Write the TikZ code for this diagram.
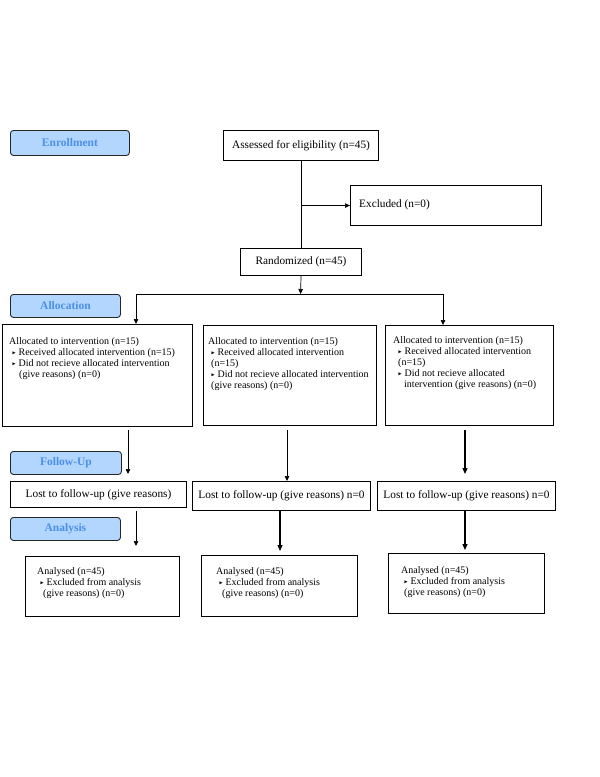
\documentclass[tikz,border=0pt]{standalone}
\usepackage{fontspec}
\setmainfont{Liberation Serif}
\usepackage{amssymb}
\usetikzlibrary{arrows.meta}
\definecolor{lblfill}{HTML}{B3D6FF}
\definecolor{lbltext}{HTML}{4A90E8}
\newcommand\mytri{\raisebox{0.2ex}{\scalebox{0.5}{$\blacktriangleright$}}\hspace{0.25em}}
\begin{document}
\begin{tikzpicture}[x=1pt,y=-1pt,
  box/.style={draw, line width=1.1pt, inner sep=0pt, anchor=north west},
  lbl/.style={draw=black!85, line width=0.9pt, rounded corners=3pt, fill=lblfill, text=lbltext,
     font=\bfseries\fontsize{11.5}{13}\selectfont, anchor=north west, inner sep=0pt},
  txt/.style={anchor=north west, align=left, inner sep=0pt, font=\fontsize{10}{11.2}\selectfont},
  ctxt/.style={font=\fontsize{11.3}{13}\selectfont},
  arr/.style={-{Triangle[length=5pt,width=4.5pt]}, line width=0.7pt},
  arrb/.style={-{Triangle[length=6pt,width=5pt]}, line width=1.2pt},
  ln/.style={line width=1.1pt}]
\useasboundingbox (0,0) rectangle (600,777);

% phase labels
\node[lbl, minimum width=119pt, minimum height=25pt] (enr) at (10,130) {Enrollment};
\node[lbl, minimum width=110pt, minimum height=23pt] (alloc) at (10,294) {Allocation};
\node[lbl, minimum width=111pt, minimum height=23pt] (fol) at (10,451) {Follow-Up};
\node[lbl, minimum width=110pt, minimum height=23pt] (ana) at (10,517) {Analysis};

% top boxes
\node[box, minimum width=155pt, minimum height=30pt, ctxt] (assess) at (223,130) {Assessed for eligibility (n=45)};
\node[box, minimum width=191pt, minimum height=40pt] (excl) at (350,185) {};
\node[txt, ctxt, anchor=west] (exclt) at (359,205) {Excluded (n=0)};
\node[box, minimum width=121pt, minimum height=27pt, ctxt] (rand) at (240,248) {Randomized (n=45)};

\draw[ln] (assess.south) -- (rand.north);
\draw[arr] (assess.south |- excl.west) -- (excl.west);

% allocation boxes
\node[box, minimum width=190pt, minimum height=102pt] (a1) at (2,324) {};
\node[box, minimum width=173pt, minimum height=100pt] (a2) at (203,325) {};
\node[box, minimum width=168pt, minimum height=100pt] (a3) at (385,325) {};

\node[txt] (a1t) at (9,337) {Allocated to intervention (n=15)\\
\hspace*{3pt}\mytri Received allocated intervention (n=15)\\
\hspace*{3pt}\mytri Did not recieve allocated intervention\\
\hspace*{10pt}(give reasons) (n=0)};
\node[txt] (a2t) at (208,337) {Allocated to intervention (n=15)\\
\hspace*{3pt}\mytri Received allocated intervention\\
\hspace*{3pt}(n=15)\\
\hspace*{3pt}\mytri Did not recieve allocated intervention\\
\hspace*{3pt}(give reasons) (n=0)};
\node[txt] (a3t) at (393,336) {Allocated to intervention (n=15)\\
\hspace*{5pt}\mytri Received allocated intervention\\
\hspace*{5pt}(n=15)\\
\hspace*{5pt}\mytri Did not recieve allocated\\
\hspace*{11pt}intervention (give reasons) (n=0)};

\coordinate (j) at (300.5,294);
\coordinate (a1in) at (136,324);
\coordinate (a3in) at (443,325);
\draw[arr] (rand.south) -- (j);
\draw[arr] (j) -| (a1in);
\draw[arr] (j) -| (a3in);

% lost boxes
\node[box, minimum width=176pt, minimum height=26pt, ctxt] (l1) at (10,481) {Lost to follow-up (give reasons)};
\node[box, minimum width=178pt, minimum height=29pt, ctxt] (l2) at (192,481) {Lost to follow-up (give reasons) n=0};
\node[box, minimum width=178pt, minimum height=29pt, ctxt] (l3) at (377,481) {Lost to follow-up (give reasons) n=0};

\coordinate (a1out) at (128,430);
\coordinate (a2out) at (287,430);
\coordinate (a3out) at (465,430);
\coordinate (l1in) at (128,474);
\coordinate (l3in) at (465,474);
\draw[arr] (a1out) -- (l1in);
\draw[arr] (a2out) -- (a2out |- l2.north);
\draw[arrb] (a3out) -- (l3in);

% analysed boxes
\node[box, minimum width=154pt, minimum height=60pt] (n1) at (25,556) {};
\node[box, minimum width=156pt, minimum height=61pt] (n2) at (201,555) {};
\node[box, minimum width=156pt, minimum height=60pt] (n3) at (388,553) {};

\node[txt] (n1t) at (37,567) {Analysed (n=45)\\
\hspace*{3pt}\mytri Excluded from analysis\\
\hspace*{6pt}(give reasons) (n=0)};
\node[txt] (n2t) at (216,567) {Analysed (n=45)\\
\hspace*{3pt}\mytri Excluded from analysis\\
\hspace*{6pt}(give reasons) (n=0)};
\node[txt] (n3t) at (401,566) {Analysed (n=45)\\
\hspace*{3pt}\mytri Excluded from analysis\\
\hspace*{3pt}(give reasons) (n=0)};

\coordinate (l1out) at (136,511);
\coordinate (n1in) at (136,546);
\coordinate (n2in) at (280,551);
\coordinate (n3in) at (465,550);
\draw[arr] (l1out) -- (n1in);
\draw[arrb] (l2.south -| n2in) -- (n2in);
\draw[arrb] (l3.south -| n3in) -- (n3in);
\end{tikzpicture}
\end{document}
